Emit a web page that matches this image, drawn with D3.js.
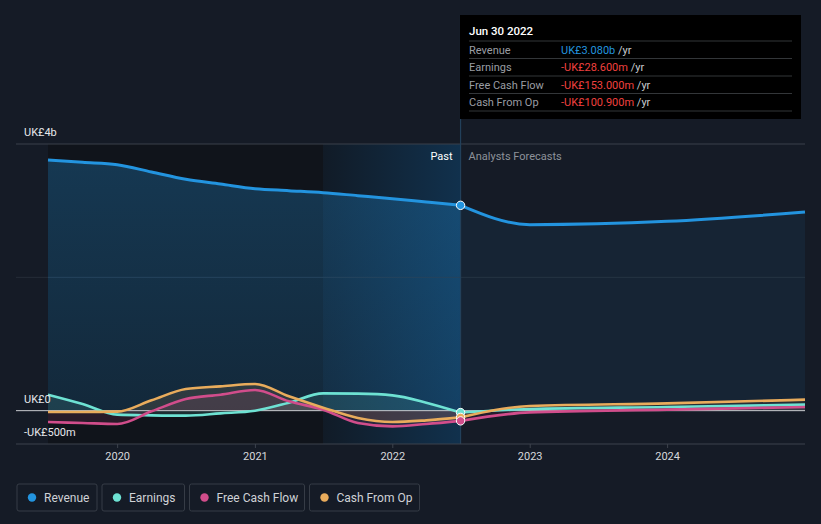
<!DOCTYPE html>
<html><head><meta charset="utf-8">
<script src="https://cdn.jsdelivr.net/npm/d3@7"></script>
<style>
html,body{margin:0;padding:0;background:#151b26;}
svg{display:block;font-family:Roboto,"Noto Sans",sans-serif;}
</style></head>
<body><svg id="c" width="821" height="524"></svg>
<script>
// ---- data ----
const pastDates = ["2019-06-30","2019-09-30","2019-12-31","2020-03-31","2020-06-30","2020-09-30","2020-12-31","2021-03-31","2021-06-30","2021-09-30","2021-12-31","2022-03-31","2022-06-30"];
const revenuePast  = [3760,3725,3690,3580,3470,3400,3330,3300,3270,3225,3180,3130,3080];
const earningsPast = [240,100,-60,-70,-75,-40,0,120,260,255,230,120,-28.6];
const fcfPast      = [-170,-185,-200,-10,175,240,310,140,15,-185,-235,-200,-153];
const cfoPast      = [-20,-20,-15,155,325,365,400,215,45,-110,-170,-145,-100.9];

const fcDates = ["2022-06-30","2022-12-31","2023-12-31","2024-12-31"];
const revenueFc  = [3080,2790,2840,2980];
const earningsFc = [-28.6,25,55,90];
const fcfFc      = [-153,-25,15,55];
const cfoFc      = [-100.9,70,110,165];

const yTicks = [4000,2000,0,-500];
const yTickLabels = {4000:"UK£4b",0:"UK£0","-500":"-UK£500m"};
const xTicks = ["2020-01-01","2021-01-01","2022-01-01","2023-01-01","2024-01-01"];

const seriesNames = ["Revenue","Earnings","Free Cash Flow","Cash From Op"];
const seriesColors = ["#2394df","#6ee2d3","#d14d8b","#e9ac5c"];
const tooltipDate = "Jun 30 2022";
const tooltipValues = ["UK£3.080b","-UK£28.600m","-UK£153.000m","-UK£100.900m"];
const highlightStart = "2021-06-30";
const nowDate = "2022-06-30";

// ---- setup ----
const parse = d3.timeParse("%Y-%m-%d");
const svg = d3.select("#c");
const W = 821, H = 524;
const x = d3.scaleTime().domain([parse("2019-06-30"), parse("2024-12-31")]).range([48,805]);
const y = d3.scaleLinear().domain([-500,4000]).range([444,144]);
const xNow = x(parse(nowDate)), xHi = x(parse(highlightStart));

const defs = svg.append("defs");
const g1 = defs.append("linearGradient").attr("id","band").attr("x1","0").attr("x2","1").attr("y1","0").attr("y2","0");
g1.append("stop").attr("offset","0").attr("stop-color","#111b27");
g1.append("stop").attr("offset","1").attr("stop-color","#11314d");
const g2 = defs.append("linearGradient").attr("id","revfill").attr("x1","0").attr("x2","0").attr("y1","0").attr("y2","1");
g2.append("stop").attr("offset","0").attr("stop-color","#2394df").attr("stop-opacity",0.28);
g2.append("stop").attr("offset","1").attr("stop-color","#2394df").attr("stop-opacity",0.16);

svg.append("rect").attr("width",W).attr("height",H).attr("fill","#151b26");
// past regions
svg.append("rect").attr("x",48).attr("y",y(4000)).attr("width",xHi-48).attr("height",y(-500)-y(4000)).attr("fill","#10141b");
svg.append("rect").attr("x",xHi).attr("y",y(4000)).attr("width",xNow-xHi).attr("height",y(-500)-y(4000)).attr("fill","url(#band)");

// gridlines
svg.append("line").attr("x1",16).attr("x2",805).attr("y1",y(4000)).attr("y2",y(4000)).attr("stroke","#3a404a");
svg.append("line").attr("x1",16).attr("x2",805).attr("y1",y(2000)).attr("y2",y(2000)).attr("stroke","#262d38");

function mk(dates, vals){ return dates.map((d,i)=>({d:parse(d), v:vals[i]})); }
const past = [revenuePast,earningsPast,fcfPast,cfoPast].map(v=>mk(pastDates,v));
const fc = [revenueFc,earningsFc,fcfFc,cfoFc].map(v=>mk(fcDates,v));

const area = d3.area().x(d=>x(d.d)).y0(y(0)).y1(d=>y(d.v)).curve(d3.curveMonotoneX);
const line = d3.line().x(d=>x(d.d)).y(d=>y(d.v)).curve(d3.curveMonotoneX);

// revenue areas
svg.append("path").datum(past[0]).attr("d",area).attr("fill","url(#revfill)");
svg.append("path").datum(fc[0]).attr("d",area).attr("fill","#2394df").attr("opacity",0.08);
// other areas
[1,2,3].forEach(i=>{
  svg.append("path").datum(past[i]).attr("d",area).attr("fill",seriesColors[i]).attr("opacity",0.13);
  svg.append("path").datum(fc[i]).attr("d",area).attr("fill",seriesColors[i]).attr("opacity",0.08);
});

// zero line
svg.append("line").attr("x1",16).attr("x2",805).attr("y1",y(0)).attr("y2",y(0)).attr("stroke","#c9cbcf").attr("stroke-width",1);

// lines
[1,2,3,0].forEach(i=>{
  svg.append("path").datum(past[i]).attr("d",line).attr("fill","none").attr("stroke",seriesColors[i]).attr("stroke-width",i===0?3:2.6);
  svg.append("path").datum(fc[i]).attr("d",line).attr("fill","none").attr("stroke",seriesColors[i]).attr("stroke-width",i===0?3:2.6);
});

// vertical now line
svg.append("line").attr("x1",xNow).attr("x2",xNow).attr("y1",15).attr("y2",444).attr("stroke","#22405a").attr("stroke-width",1.2);

// markers
[1,3,2,0].forEach(i=>{
  const last = past[i][past[i].length-1];
  svg.append("circle").attr("cx",x(last.d)).attr("cy",y(last.v)).attr("r",4.2)
    .attr("fill",seriesColors[i]).attr("stroke","#ffffff").attr("stroke-width",1);
});

// bottom axis
const xa = svg.append("g").attr("transform","translate(0,444)");
xa.append("line").attr("x1",16).attr("x2",805).attr("stroke","#3d434d");
xTicks.forEach(t=>{
  const xx = x(parse(t));
  xa.append("line").attr("x1",xx).attr("x2",xx).attr("y1",0).attr("y2",4).attr("stroke","#3d434d");
  xa.append("text").attr("x",xx).attr("y",16).attr("text-anchor","middle").attr("fill","#d6d8dc")
    .attr("font-size",11).text(d3.timeFormat("%Y")(parse(t)));
});

// y labels
yTicks.forEach(t=>{
  if(!(t in yTickLabels)) return;
  svg.append("text").attr("x",24).attr("y",y(t)-8).attr("fill","#e6e7ea").attr("font-size",11).text(yTickLabels[t]);
});
// fix -500 label position (below zero line, above axis)
svg.selectAll("text").filter(function(){return d3.select(this).text()==="-UK£500m";}).attr("y",y(-500)-8);

// Past / forecasts labels
svg.append("text").attr("x",xNow-8).attr("y",160).attr("text-anchor","end").attr("fill","#ffffff").attr("font-size",11).text("Past");
svg.append("text").attr("x",xNow+8).attr("y",160).attr("fill","#8d929a").attr("font-size",11).text("Analysts Forecasts");

// tooltip
const tt = svg.append("g");
tt.append("rect").attr("x",460).attr("y",15).attr("width",341).attr("height",104).attr("fill","#000000");
tt.append("text").attr("x",469).attr("y",35).attr("fill","#ffffff").attr("font-size",11.5).attr("font-weight",500).text(tooltipDate);
const rowY = [41,58.5,76,93.5,111];
rowY.forEach(ry=>tt.append("line").attr("x1",469).attr("x2",792).attr("y1",ry).attr("y2",ry).attr("stroke","#333639"));
seriesNames.forEach((n,i)=>{
  const by = rowY[i]+12.5;
  tt.append("text").attr("x",469).attr("y",by).attr("fill","#9a9da3").attr("font-size",11).text(n);
  const t = tt.append("text").attr("x",561).attr("y",by).attr("font-size",11);
  t.append("tspan").attr("fill",i===0?"#2394df":"#f0403f").text(tooltipValues[i]);
  t.append("tspan").attr("fill","#c9cbcf").text(" /yr");
});

// legend
const legend = svg.append("g");
const boxes = [[17,80],[102,82.5],[189.5,115],[309.5,110]];
seriesNames.forEach((n,i)=>{
  const [bx,bw] = boxes[i];
  legend.append("rect").attr("x",bx).attr("y",484).attr("width",bw).attr("height",27).attr("rx",2)
    .attr("fill","none").attr("stroke","#363c46");
  legend.append("circle").attr("cx",bx+15).attr("cy",497.5).attr("r",4.2).attr("fill",seriesColors[i]);
  legend.append("text").attr("x",bx+27).attr("y",501.5).attr("fill","#cfd2d6").attr("font-size",12).text(n);
});
</script></body></html>
